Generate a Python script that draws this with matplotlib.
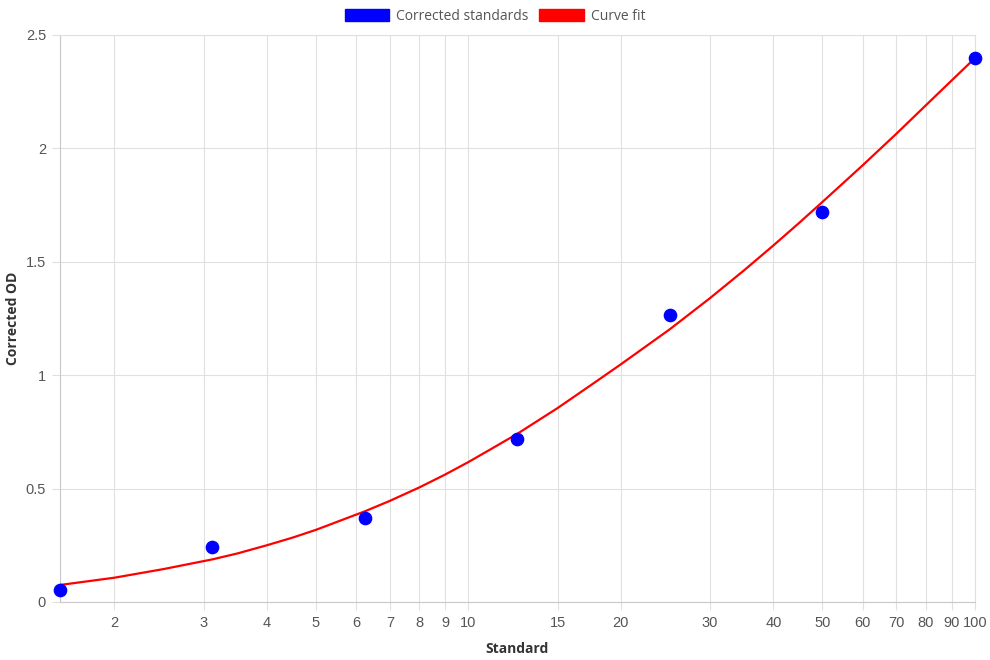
import matplotlib
matplotlib.use("Agg")
from matplotlib import pyplot as plt
from matplotlib.patches import Patch
from matplotlib.ticker import FixedLocator, FixedFormatter, NullLocator

# corrected standards (concentration vs OD)
std_x = [1.5625, 3.125, 6.25, 12.5, 25, 50, 100]
std_od = [0.053, 0.243, 0.370, 0.719, 1.265, 1.720, 2.400]

# curve fit
fit_x = [1.5625, 2, 2.5, 3.125, 3.5, 4, 4.5, 5, 6.25, 7, 8, 9, 10, 11, 12.5, 15,
         17.5, 20, 25, 30, 35, 40, 45, 50, 55, 60, 70, 80, 90, 100]
fit_od = [0.075, 0.107, 0.145, 0.188, 0.214, 0.250, 0.284, 0.318, 0.400, 0.446,
          0.505, 0.562, 0.617, 0.670, 0.742, 0.855, 0.958, 1.048, 1.203, 1.340,
          1.462, 1.572, 1.672, 1.764, 1.848, 1.925, 2.065, 2.190, 2.300, 2.398]

x_ticks = [2, 3, 4, 5, 6, 7, 8, 9, 10, 15, 20, 30, 40, 50, 60, 70, 80, 90, 100]
y_ticks = [0, 0.5, 1, 1.5, 2, 2.5]
y_labels = ["0", "0.5", "1", "1.5", "2", "2.5"]

grid_col = "#e0e0e0"
tick_col = "#555555"
title_font = "Open Sans"
tick_font = "Liberation Sans"


def plot():
    fig = plt.figure(figsize=(9.9, 6.6), dpi=100)
    ax = fig.add_axes([0.0606, 0.0879, 0.9242, 0.8591])

    ax.plot(fit_x, fit_od, color="red", lw=1.6, zorder=3)
    ax.scatter(std_x, std_od, s=78, color="blue", zorder=4, clip_on=False)

    ax.set_xscale("log")
    ax.set_xlim(1.5625, 100)
    ax.set_ylim(0, 2.5)

    ax.xaxis.set_major_locator(FixedLocator(x_ticks))
    ax.xaxis.set_major_formatter(FixedFormatter([str(t) for t in x_ticks]))
    ax.xaxis.set_minor_locator(NullLocator())
    ax.yaxis.set_major_locator(FixedLocator(y_ticks))
    ax.yaxis.set_major_formatter(FixedFormatter(y_labels))

    ax.grid(True, color=grid_col, lw=0.8)
    ax.axvline(1.5625, color=grid_col, lw=0.8, zorder=0)
    ax.set_axisbelow(True)
    for side in ["top", "right"]:
        ax.spines[side].set_color(grid_col)
        ax.spines[side].set_linewidth(0.8)
    for side in ["left", "bottom"]:
        ax.spines[side].set_color("#c8c8c8")
        ax.spines[side].set_linewidth(0.8)

    ax.tick_params(axis="both", length=6, width=0.8, color=grid_col,
                   labelcolor=tick_col, labelsize=10.5, pad=4)
    for lbl in ax.get_xticklabels() + ax.get_yticklabels():
        lbl.set_fontfamily(tick_font)

    ax.set_xlabel("Standard", fontsize=10, fontweight="bold", color="#333333",
                  family=title_font, labelpad=9)
    ax.set_ylabel("Corrected OD", fontsize=10, fontweight="bold", color="#333333",
                  family=title_font)
    ax.yaxis.set_label_coords(-0.044, 0.5)

    handles = [Patch(facecolor="blue", edgecolor="blue"),
               Patch(facecolor="red", edgecolor="red")]
    fig.legend(handles, ["Corrected standards", "Curve fit"], loc="center",
               bbox_to_anchor=(0.5, 0.975), ncol=2, frameon=False,
               handlelength=3.2, handleheight=1.0, handletextpad=0.5,
               columnspacing=0.8,
               prop={"family": title_font, "size": 10})
    for t in fig.legends[0].get_texts():
        t.set_color("#555555")

    fig.savefig("out.png", dpi=100)


if __name__ == "__main__":
    plot()
